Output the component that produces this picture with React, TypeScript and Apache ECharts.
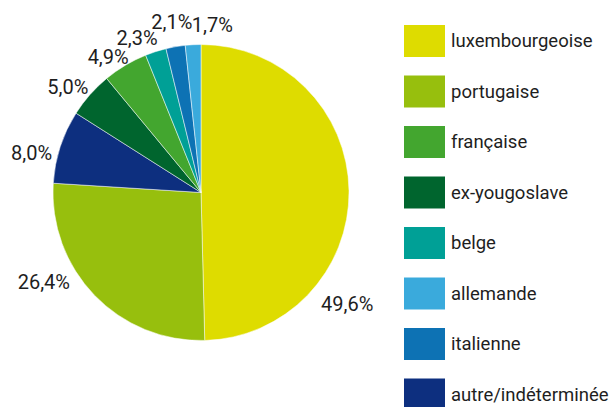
import React, { useEffect, useRef } from "react";
import * as echarts from "echarts";

const categories = [
  "luxembourgeoise",
  "portugaise",
  "autre/indéterminée",
  "ex-yougoslave",
  "française",
  "belge",
  "italienne",
  "allemande",
];
const values = [49.6, 26.4, 8.0, 5.0, 4.9, 2.3, 2.1, 1.7];
const legendOrder = [
  "luxembourgeoise",
  "portugaise",
  "française",
  "ex-yougoslave",
  "belge",
  "allemande",
  "italienne",
  "autre/indéterminée",
];
const colors: Record<string, string> = {
  luxembourgeoise: "#DEDC00",
  portugaise: "#97BF0D",
  française: "#43A62F",
  "ex-yougoslave": "#00652E",
  belge: "#00A096",
  allemande: "#3AAADC",
  italienne: "#0D72B4",
  "autre/indéterminée": "#0D2F7F",
};

// label placement (style): angular shift from the slice's mid-angle and distance from centre
const labelShift = [38.1, 14.2, -4.9, -3.0, -3.7, -4.7, 0.2, 6.9];
const labelDist = [184, 181, 174, 170, 164, 167, 173, 168];

const FONT = "Roboto, 'Open Sans', sans-serif";
const TEXT = "#1e1e1e";
const CX = 201;
const CY = 192.5;
const R = 148;

export default function App() {
  const ref = useRef<HTMLDivElement>(null);
  useEffect(() => {
    if (!ref.current) return;
    const chart = echarts.init(ref.current, undefined, { renderer: "svg" });
    const total = values.reduce((a, b) => a + b, 0);
    const mids: number[] = [];
    let acc = 0;
    values.forEach((v) => {
      mids.push(((acc + v / 2) / total) * 360);
      acc += v;
    });
    chart.setOption({
      animation: false,
      backgroundColor: "#ffffff",
      legend: {
        orient: "vertical",
        left: 402,
        top: 23,
        height: 460,
        padding: 0,
        itemWidth: 43,
        itemHeight: 34,
        itemGap: 14.5,
        icon: "rect",
        selectedMode: false,
        data: legendOrder,
        textStyle: { fontFamily: FONT, fontSize: 18.5, color: TEXT },
      },
      series: [
        {
          type: "pie",
          center: [CX, CY],
          radius: [0, R],
          startAngle: 90,
          clockwise: true,
          avoidLabelOverlap: false,
          itemStyle: { borderColor: "#ffffff", borderWidth: 0.5 },
          label: {
            show: true,
            position: "outside",
            formatter: (p: any) => p.value.toFixed(1).replace(".", ",") + "%",
            fontFamily: FONT,
            fontSize: 20,
            color: TEXT,
          },
          labelLine: { show: false, length: 6, length2: 0 },
          labelLayout: (p: any) => {
            const i = p.dataIndex;
            const a = ((mids[i] + labelShift[i]) * Math.PI) / 180;
            return {
              x: CX + labelDist[i] * Math.sin(a),
              y: CY - labelDist[i] * Math.cos(a),
              align: "center",
              verticalAlign: "middle",
              hideOverlap: false,
            };
          },
          data: categories.map((c, i) => ({
            name: c,
            value: values[i],
            itemStyle: { color: colors[c] },
          })),
        },
      ],
    });
    return () => chart.dispose();
  }, []);
  return (
    <div
      ref={ref}
      style={{ position: "absolute", left: 0, top: 0, width: 611, height: 407 }}
    />
  );
}
